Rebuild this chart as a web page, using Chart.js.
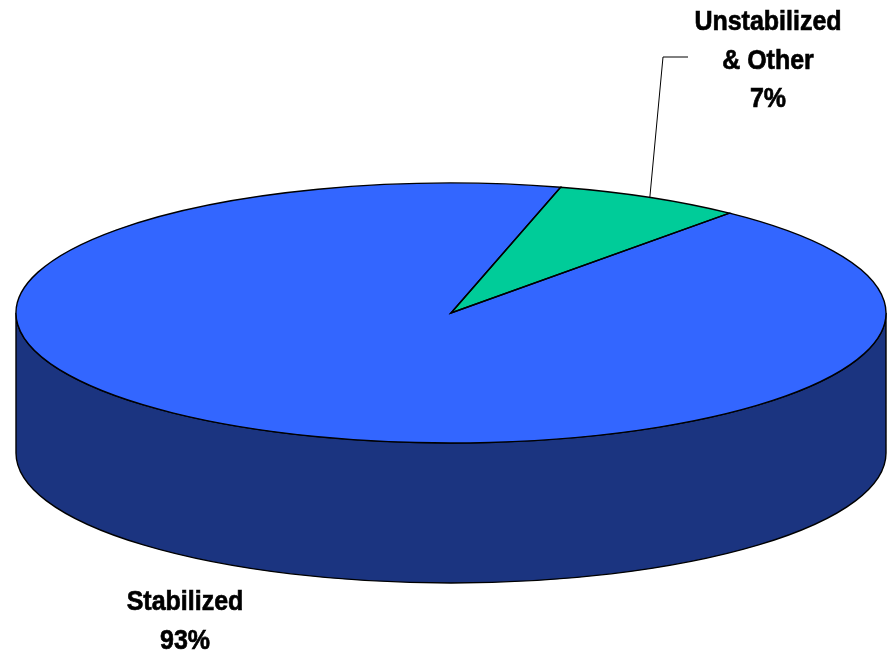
<!DOCTYPE html>
<html>
<head>
<meta charset="utf-8">
<script src="https://cdn.jsdelivr.net/npm/chart.js@4/dist/chart.umd.min.js"></script>
<style>
  body { margin: 0; background: #fff; }
  canvas { display: block; }
</style>
</head>
<body>
<canvas id="chart" width="892" height="653"></canvas>
<script>
/* Data */
const labels = ["Unstabilized & Other", "Stabilized"];
const values = [7, 93];
const labelLines = [["Unstabilized", "& Other"], ["Stabilized"]];
const topColors = ["#00CC99", "#3366FF"];
const sideColors = ["#006B50", "#1B3480"];

/* 3D look */
const tiltY = 130;     // vertical radius of top ellipse
const depth = 140;     // height of the side wall
const textStretch = 1.12;

const total = values.reduce((a, b) => a + b, 0);

function frontParts(s, e) {
    const parts = [];
    for (let k = -1; k <= 2; k++) {
        const lo = Math.max(s, 2 * Math.PI * k);
        const hi = Math.min(e, 2 * Math.PI * k + Math.PI);
        if (lo < hi) parts.push([lo, hi]);
    }
    return parts;
}

const pie3d = {
    id: "pie3d",
    beforeDatasetsDraw(chart) {
        const ctx = chart.ctx;
        const arcs = chart.getDatasetMeta(0).data;
        const cx = arcs[0].x, cy = arcs[0].y, rx = arcs[0].outerRadius;

        // side walls (front half only)
        arcs.forEach((arc, i) => {
            frontParts(arc.startAngle, arc.endAngle).forEach(([lo, hi]) => {
                ctx.beginPath();
                ctx.ellipse(cx, cy, rx, tiltY, 0, lo, hi);
                ctx.ellipse(cx, cy + depth, rx, tiltY, 0, hi, lo, true);
                ctx.closePath();
                ctx.fillStyle = sideColors[i];
                ctx.fill();
                ctx.lineWidth = 1.4;
                ctx.strokeStyle = "#000";
                ctx.stroke();
            });
        });

        // squash the pie into an ellipse
        ctx.save();
        ctx.translate(cx, cy);
        ctx.scale(1, tiltY / rx);
        ctx.translate(-cx, -cy);
    },
    afterDatasetsDraw(chart) {
        const ctx = chart.ctx;
        ctx.restore();
        const arcs = chart.getDatasetMeta(0).data;
        const cx = arcs[0].x, cy = arcs[0].y, rx = arcs[0].outerRadius;

        arcs.forEach(arc => {
            ctx.beginPath();
            ctx.moveTo(cx, cy);
            ctx.ellipse(cx, cy, rx, tiltY, 0, arc.startAngle, arc.endAngle);
            ctx.closePath();
            ctx.lineWidth = 1.4;
            ctx.strokeStyle = "#000";
            ctx.stroke();
        });
    },
    afterDraw(chart) {
        const ctx = chart.ctx;
        const arcs = chart.getDatasetMeta(0).data;
        const cx = arcs[0].x, cy = arcs[0].y, rx = arcs[0].outerRadius;

        // leader line for the small slice
        const g = arcs[0];
        const mid = (g.startAngle + g.endAngle) / 2;
        ctx.beginPath();
        ctx.moveTo(cx + rx * Math.cos(mid), cy + tiltY * Math.sin(mid));
        ctx.lineTo(663, 57);
        ctx.lineTo(688, 57);
        ctx.lineWidth = 1;
        ctx.strokeStyle = "#000";
        ctx.stroke();

        // labels
        const spots = [{ x: 768, y: 30 }, { x: 185, y: 610 }];
        ctx.fillStyle = "#000";
        ctx.strokeStyle = "#000";
        ctx.lineWidth = 0.6;
        ctx.font = "bold 25px 'Liberation Sans', Arial, sans-serif";
        ctx.textAlign = "center";
        ctx.textBaseline = "alphabetic";
        values.forEach((v, i) => {
            const lines = labelLines[i].concat([Math.round(v / total * 100) + "%"]);
            lines.forEach((t, j) => {
                ctx.save();
                ctx.translate(spots[i].x, spots[i].y + j * 38.5);
                ctx.scale(1, textStretch);
                ctx.fillText(t, 0, 0);
                ctx.strokeText(t, 0, 0);
                ctx.restore();
            });
        });
    }
};

const chart = new Chart(document.getElementById("chart"), {
    type: "pie",
    data: {
        labels: labels,
        datasets: [{
            data: values,
            backgroundColor: topColors,
            borderWidth: 0,
            clip: false
        }]
    },
    options: {
        responsive: false,
        animation: false,
        radius: 435,
        rotation: 14.6,
        layout: { padding: { left: 10, right: 0, top: 0, bottom: 27 } },
        plugins: {
            legend: { display: false },
            tooltip: { enabled: false }
        }
    },
    plugins: [pie3d]
});
</script>
</body>
</html>
